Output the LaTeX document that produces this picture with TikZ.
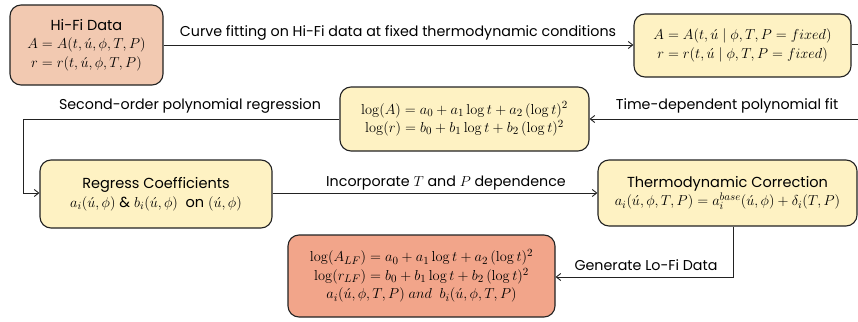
\documentclass[tikz,border=0pt]{standalone}
\usepackage[no-math]{fontspec}
\setmainfont{Poppins}[Scale=0.92]
\usetikzlibrary{arrows.meta,positioning}
\definecolor{peach}{HTML}{F2C9B1}
\definecolor{salmon}{HTML}{F2A58A}
\definecolor{pale}{HTML}{FEF2C3}
\definecolor{edge}{HTML}{222222}
\begin{document}
\begin{tikzpicture}[x=1pt,y=-1pt,
  box/.style={draw=edge,line width=1.1pt,rounded corners=11pt,align=center,inner sep=2pt,font=\fontsize{15.8}{18.5}\selectfont},
  lbl/.style={font=\fontsize{15.5}{17}\selectfont,inner sep=1pt},
  conn/.style={draw=edge,line width=0.9pt,-{Straight Barb[length=4.5pt,width=7pt]}},
  plain/.style={draw=edge,line width=0.9pt}]
\useasboundingbox (0,0) rectangle (858,321);
\node[box,fill=peach,minimum width=153pt,minimum height=80pt] (hifi) at (86.5,45)
  {Hi-Fi Data\\ $A = A(t,\acute{u},\phi,T,P)$\\ $r = r(t,\acute{u},\phi,T,P)$};
\node[box,fill=pale,minimum width=217pt,minimum height=63pt] (fixed) at (742.5,45.5)
  {$A = A(t,\acute{u}\mid\phi,T,P = fixed)$\\ $r = r(t,\acute{u}\mid\phi,T,P = fixed)$};
\node[box,fill=pale,minimum width=249pt,minimum height=64pt] (logfit) at (464.5,119)
  {$\log(A) = a_0 + a_1\log t + a_2\,(\log t)^2$\\ $\log(r) = b_0 + b_1\log t + b_2\,(\log t)^2$};
\node[box,fill=pale,minimum width=232pt,minimum height=68pt] (regress) at (156,194)
  {Regress Coefficients\\ $a_i(\acute{u},\phi)$ \& $b_i(\acute{u},\phi)$\ \ on $(\acute{u},\phi)$};
\node[box,fill=pale,minimum width=259pt,minimum height=66pt] (thermo) at (727.5,193)
  {Thermodynamic Correction\\ $a_i(\acute{u},\phi,T,P) = a_i^{base}(\acute{u},\phi) + \delta_i(T,P)$};
\node[box,fill=salmon,minimum width=267pt,minimum height=82pt] (lofi) at (421.5,276)
  {$\log(A_{LF}) = a_0 + a_1\log t + a_2\,(\log t)^2$\\ $\log(r_{LF}) = b_0 + b_1\log t + b_2\,(\log t)^2$\\ $a_i(\acute{u},\phi,T,P)\ and\ \ b_i(\acute{u},\phi,T,P)$};
\coordinate (offr) at (880,0);
\coordinate (leftx) at (23,0);
\coordinate (downx) at (733,0);
% connectors
\draw[conn] (hifi.east |- 0,45) -- (fixed.west |- 0,45);
\draw[conn] (fixed.east |- 0,44) -- (offr |- 0,44) -- (offr |- 0,119) -- (logfit.east |- 0,119);
\draw[conn] (logfit.west |- 0,119) -- (leftx |- 0,119) -- (leftx |- 0,193) -- (regress.west |- 0,193);
\draw[conn] (regress.east |- 0,193) -- (thermo.west |- 0,193);
\draw[conn] (downx |- thermo.south) -- (downx |- 0,277) -- (lofi.east |- 0,277);
% labels
\node[lbl] (l1) at (398,33) {Curve fitting on Hi-Fi data at fixed thermodynamic conditions};
\node[lbl] (l2) at (727,106) {Time-dependent polynomial fit};
\node[lbl] (l3) at (190,106) {Second-order polynomial regression};
\node[lbl] (l4) at (446,183) {Incorporate $T$ and $P$ dependence};
\node[lbl] (l5) at (646,265) {Generate Lo-Fi Data};
\end{tikzpicture}
\end{document}
